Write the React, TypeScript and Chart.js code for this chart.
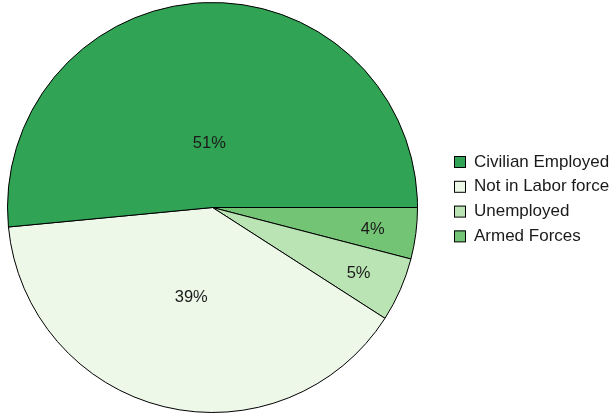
import React, { useEffect, useRef } from 'react';
import { Chart, ArcElement, PieController, Plugin } from 'chart.js';

Chart.register(ArcElement, PieController);

// legend order (counter-clockwise from 3 o'clock in the picture)
const categories = ['Civilian Employed', 'Not in Labor force', 'Unemployed', 'Armed Forces'];
const values = [51, 39, 5, 4];
const colors = ['#31a354', '#edf8e9', '#bae4b3', '#74c476'];

const FONT = '"Liberation Sans", Arial, sans-serif';

// chart.js goes clockwise, so feed it reversed
const drawLabels = [...categories].reverse();
const drawValues = [...values].reverse();
const drawColors = [...colors].reverse();

const sliceText: Plugin<'pie'> = {
  id: 'sliceText',
  afterDatasetsDraw(chart) {
    const ctx = chart.ctx;
    const meta = chart.getDatasetMeta(0);
    ctx.save();
    ctx.font = `16.5px ${FONT}`;
    ctx.fillStyle = '#1a1a1a';
    ctx.textAlign = 'center';
    ctx.textBaseline = 'middle';
    meta.data.forEach((el: any, i: number) => {
      const { x, y, startAngle, endAngle, outerRadius } = el.getProps(['x', 'y', 'startAngle', 'endAngle', 'outerRadius'], true);
      const span = ((endAngle - startAngle) * 180) / Math.PI;
      // same placement rule as pgf-pie: big slices keep text nearer the centre
      const k = Math.max(Math.min(((span - 10) / 110) * -0.3, 0), -0.5) + 0.8;
      const mid = (startAngle + endAngle) / 2;
      const r = outerRadius * k;
      ctx.fillText(drawValues[i] + '%', x + Math.cos(mid) * r, y + Math.sin(mid) * r + 2);
    });
    ctx.restore();
  },
};

const sideLegend: Plugin<'pie'> = {
  id: 'sideLegend',
  afterDraw(chart) {
    const ctx = chart.ctx;
    const left = 454;
    const top = 161.5;
    const step = 24.8;
    ctx.save();
    ctx.font = `17px ${FONT}`;
    ctx.textBaseline = 'middle';
    ctx.textAlign = 'left';
    categories.forEach((name, i) => {
      const cy = top + i * step;
      ctx.fillStyle = colors[i];
      ctx.fillRect(left, cy - 5.5, 11.5, 11.5);
      ctx.strokeStyle = '#000';
      ctx.lineWidth = 1;
      ctx.strokeRect(left + 0.5, cy - 5, 11, 11);
      ctx.fillStyle = '#1a1a1a';
      ctx.fillText(name, left + 20, cy + 0.5);
    });
    ctx.restore();
  },
};

export default function App() {
  const canvasRef = useRef<HTMLCanvasElement | null>(null);

  useEffect(() => {
    if (!canvasRef.current) return;
    const chart = new Chart(canvasRef.current, {
      type: 'pie',
      data: {
        labels: drawLabels,
        datasets: [
          {
            data: drawValues,
            backgroundColor: drawColors,
            borderColor: '#000',
            borderWidth: 1,
          },
        ],
      },
      options: {
        responsive: false,
        animation: false,
        rotation: 90,
        radius: 205,
        layout: { padding: { left: 0, right: 190, top: 0, bottom: 0 } },
        plugins: {
          legend: { display: false },
          tooltip: { enabled: false },
        },
      },
      plugins: [sliceText, sideLegend],
    });
    return () => {
      chart.destroy();
    };
  }, []);

  return (
    <div style={{ position: 'fixed', left: 0, top: 0, width: 615, height: 415, background: '#fff' }}>
      <canvas ref={canvasRef} width={615} height={415} />
    </div>
  );
}
